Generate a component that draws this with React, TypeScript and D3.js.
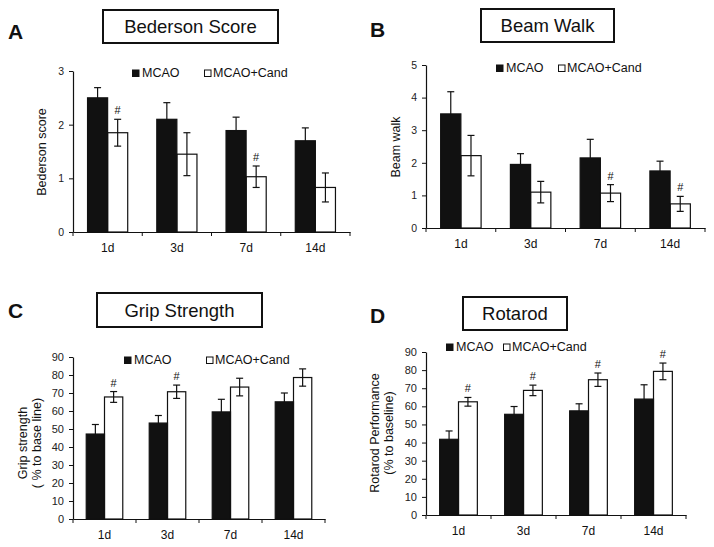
import React from "react";
import * as d3 from "d3";

// ---- data ----
const days = ["1d", "3d", "7d", "14d"];
const seriesNames = ["MCAO", "MCAO+Cand"];

const bedersonMcao = [2.5, 2.1, 1.89, 1.7];
const bedersonMcaoErr = [0.19, 0.31, 0.25, 0.24];
const bedersonCand = [1.85, 1.45, 1.03, 0.83];
const bedersonCandErr = [0.25, 0.4, 0.2, 0.27];
const bedersonSig = [true, false, true, false];

const beamMcao = [3.5, 1.95, 2.15, 1.75];
const beamMcaoErr = [0.68, 0.33, 0.57, 0.3];
const beamCand = [2.22, 1.1, 1.07, 0.74];
const beamCandErr = [0.62, 0.33, 0.26, 0.23];
const beamSig = [false, false, true, true];

const gripMcao = [47.2, 53.3, 59.5, 65.1];
const gripMcaoErr = [5.3, 4.2, 7.0, 4.9];
const gripCand = [67.8, 70.7, 73.3, 78.6];
const gripCandErr = [3.0, 3.7, 4.9, 4.8];
const gripSig = [true, true, false, false];

const rotaMcao = [41.8, 55.6, 57.5, 64.0];
const rotaMcaoErr = [4.6, 4.3, 3.9, 7.9];
const rotaCand = [62.5, 68.8, 74.7, 79.3];
const rotaCandErr = [2.4, 2.9, 3.7, 4.6];
const rotaSig = [true, true, true, true];

const FONT = "'Liberation Sans', Arial, Helvetica, sans-serif";

interface PanelProps {
    letter: string;
    letterPos: [number, number];
    title: string;
    titleBox: [number, number, number, number]; // x, y, w, h
    yLabel: string[];
    yLabelX: number[];
    yLabelY: number;
    x0: number;
    x1: number;
    yTop: number;
    yBottom: number;
    yMax: number;
    yStep: number;
    tickFont: number;
    legendY: number;
    legendX: [number, number];
    mcao: number[];
    mcaoErr: number[];
    cand: number[];
    candErr: number[];
    sig: boolean[];
}

const Panel = (p: PanelProps) => {
    const gRef = React.useRef<SVGGElement>(null);

    React.useEffect(() => {
        const g = d3.select(gRef.current);
        g.selectAll("*").remove();

        const x = d3.scaleBand().domain(days).range([p.x0, p.x1]).paddingInner(0.42).paddingOuter(0.21);
        const xs = d3.scaleBand().domain(seriesNames).range([0, x.bandwidth()]);
        const y = d3.scaleLinear().domain([0, p.yMax]).range([p.yBottom, p.yTop]);

        // y axis
        const yAxis = d3
            .axisLeft(y)
            .tickValues(d3.range(0, p.yMax + p.yStep / 2, p.yStep))
            .tickFormat(d3.format("d"))
            .tickSize(4)
            .tickPadding(5)
            .tickSizeOuter(0);
        const ya = g.append("g").attr("transform", `translate(${p.x0},0)`).call(yAxis);
        ya.select(".domain").attr("stroke", "#111").attr("stroke-width", 1.2);
        ya.selectAll("line").attr("stroke", "#111");
        ya.selectAll("text")
            .attr("font-family", FONT)
            .attr("font-size", p.tickFont)
            .attr("fill", "#222");

        // x axis with ticks between categories
        const xAxis = d3.axisBottom(x).tickSize(0).tickPadding(11);
        const xa = g.append("g").attr("transform", `translate(0,${p.yBottom})`).call(xAxis);
        xa.select(".domain").attr("stroke", "#111").attr("stroke-width", 1.2);
        xa.selectAll("text").attr("font-family", FONT).attr("font-size", 12).attr("fill", "#111");
        const step = x.step();
        g.append("g")
            .selectAll("line")
            .data(d3.range(days.length + 1))
            .enter()
            .append("line")
            .attr("x1", (i) => p.x0 + i * step)
            .attr("x2", (i) => p.x0 + i * step)
            .attr("y1", p.yBottom)
            .attr("y2", p.yBottom + 4)
            .attr("stroke", "#111");

        const groups = [
            { name: "MCAO", vals: p.mcao, err: p.mcaoErr, fill: "#111" },
            { name: "MCAO+Cand", vals: p.cand, err: p.candErr, fill: "#fff" },
        ];

        groups.forEach((s) => {
            const sg = g.append("g");
            const items = days.map((d, i) => ({ d, v: s.vals[i], e: s.err[i], sig: p.sig[i] }));
            const cx = (d: string) => (x(d) as number) + (xs(s.name) as number) + xs.bandwidth() / 2;
            // error bars
            sg.selectAll(".eb")
                .data(items)
                .enter()
                .append("line")
                .attr("x1", (d) => cx(d.d))
                .attr("x2", (d) => cx(d.d))
                .attr("y1", (d) => y(d.v - d.e))
                .attr("y2", (d) => y(d.v + d.e))
                .attr("stroke", "#111")
                .attr("stroke-width", 1.2);
            sg.selectAll(".cap")
                .data(items.flatMap((d) => [{ d: d.d, v: d.v + d.e }, { d: d.d, v: d.v - d.e }]))
                .enter()
                .append("line")
                .attr("x1", (d) => cx(d.d) - 3.5)
                .attr("x2", (d) => cx(d.d) + 3.5)
                .attr("y1", (d) => y(d.v))
                .attr("y2", (d) => y(d.v))
                .attr("stroke", "#111")
                .attr("stroke-width", 1.2);
            sg.selectAll("rect")
                .data(items)
                .enter()
                .append("rect")
                .attr("x", (d) => (x(d.d) as number) + (xs(s.name) as number))
                .attr("width", xs.bandwidth())
                .attr("y", (d) => y(d.v))
                .attr("height", (d) => p.yBottom - y(d.v))
                .attr("fill", s.fill)
                .attr("fill-opacity", s.name === "MCAO" ? 1 : 0)
                .attr("stroke", "#111")
                .attr("stroke-width", 1.2);
            if (s.name === "MCAO+Cand") {
                sg.selectAll(".sig")
                    .data(items.filter((d) => d.sig))
                    .enter()
                    .append("text")
                    .attr("x", (d) => cx(d.d))
                    .attr("y", (d) => y(d.v + d.e) - 5)
                    .attr("text-anchor", "middle")
                    .attr("font-family", FONT)
                    .attr("font-size", 11)
                    .attr("fill", "#111")
                    .text("#");
            }
        });
    }, [p]);

    const [bx, by, bw, bh] = p.titleBox;
    return (
        <g fontFamily={FONT}>
            <text x={p.letterPos[0]} y={p.letterPos[1]} fontSize={21} fontWeight="bold" fill="#111">
                {p.letter}
            </text>
            <rect x={bx} y={by} width={bw} height={bh} fill="#fff" stroke="#111" strokeWidth={2} />
            <text x={bx + bw / 2} y={by + bh / 2 + 6.5} textAnchor="middle" fontSize={18.5} fill="#111">
                {p.title}
            </text>
            {p.yLabel.map((l, i) => (
                <text
                    key={l}
                    transform={`translate(${p.yLabelX[i]},${p.yLabelY}) rotate(-90)`}
                    textAnchor="middle"
                    dominantBaseline="central"
                    fontSize={12.5}
                    fill="#111"
                >
                    {l}
                </text>
            ))}
            <rect x={p.legendX[0]} y={p.legendY - 7.5} width={7.5} height={7.5} fill="#111" />
            <text x={p.legendX[0] + 10} y={p.legendY} fontSize={12.5} fill="#111">
                {seriesNames[0]}
            </text>
            <rect x={p.legendX[1] + 0.5} y={p.legendY - 7} width={6.5} height={6.5} fill="#fff" stroke="#111" />
            <text x={p.legendX[1] + 9} y={p.legendY} fontSize={12.5} fill="#111">
                {seriesNames[1]}
            </text>
            <g ref={gRef} />
        </g>
    );
};

const panelA: PanelProps = {
    letter: "A", letterPos: [8, 39], title: "Bederson Score", titleBox: [103, 10, 175, 33],
    yLabel: ["Bederson score"], yLabelX: [42], yLabelY: 152,
    x0: 73, x1: 350, yTop: 71, yBottom: 232, yMax: 3, yStep: 1, tickFont: 10.5,
    legendY: 77, legendX: [132, 204],
    mcao: bedersonMcao, mcaoErr: bedersonMcaoErr, cand: bedersonCand, candErr: bedersonCandErr, sig: bedersonSig,
};

const panelB: PanelProps = {
    letter: "B", letterPos: [370, 37], title: "Beam Walk", titleBox: [481, 9, 133, 33],
    yLabel: ["Beam walk"], yLabelX: [396], yLabelY: 147,
    x0: 426, x1: 705, yTop: 65, yBottom: 228, yMax: 5, yStep: 1, tickFont: 10.5,
    legendY: 72, legendX: [496, 558],
    mcao: beamMcao, mcaoErr: beamMcaoErr, cand: beamCand, candErr: beamCandErr, sig: beamSig,
};

const panelC: PanelProps = {
    letter: "C", letterPos: [8, 318], title: "Grip Strength", titleBox: [97, 293, 165, 34],
    yLabel: ["Grip strength", "( % to base line)"], yLabelX: [23, 37], yLabelY: 443,
    x0: 73, x1: 325, yTop: 357, yBottom: 519, yMax: 90, yStep: 10, tickFont: 11,
    legendY: 364, legendX: [124, 206],
    mcao: gripMcao, mcaoErr: gripMcaoErr, cand: gripCand, candErr: gripCandErr, sig: gripSig,
};

const panelD: PanelProps = {
    letter: "D", letterPos: [370, 323], title: "Rotarod", titleBox: [463, 297, 104, 33],
    yLabel: ["Rotarod Performance", "(% to baseline)"], yLabelX: [375, 389], yLabelY: 433,
    x0: 426, x1: 686, yTop: 352, yBottom: 515, yMax: 90, yStep: 10, tickFont: 11,
    legendY: 351, legendX: [446, 503],
    mcao: rotaMcao, mcaoErr: rotaMcaoErr, cand: rotaCand, candErr: rotaCandErr, sig: rotaSig,
};

const App = () => {
    return (
        <svg
            width={714}
            height={547}
            viewBox="0 0 714 547"
            style={{ position: "absolute", left: 0, top: 0, background: "#fff" }}
        >
            <rect width={714} height={547} fill="#fff" />
            <Panel {...panelA} />
            <Panel {...panelB} />
            <Panel {...panelC} />
            <Panel {...panelD} />
        </svg>
    );
};

export default App;
